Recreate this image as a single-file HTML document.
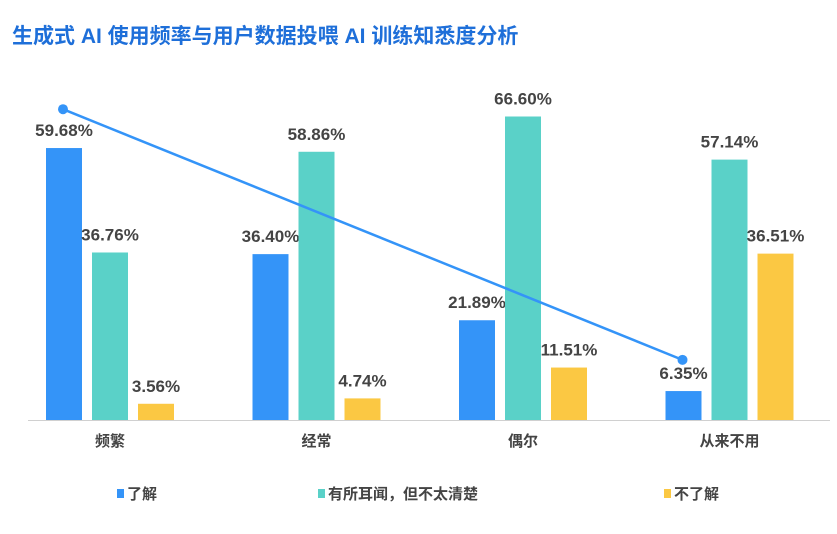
<!DOCTYPE html>
<html><head><meta charset="utf-8"><style>
body{margin:0;background:#fff;width:837px;height:529px;overflow:hidden;font-family:"Liberation Sans","Noto Sans CJK SC",sans-serif}
</style></head><body>
<svg id="c" width="837" height="529">
<text x="12" y="43" font-size="21" font-weight="bold" fill="#1e6fd9">生成式 AI 使用频率与用户数据投喂 AI 训练知悉度分析</text>
<line x1="28" y1="420.5" x2="830" y2="420.5" stroke="#d0d0d0"/>
</svg>
<script>
const categories=["频繁","经常","偶尔","从来不用"];
const seriesNames=["了解","有所耳闻，但不太清楚","不了解"];
const s1=[59.68,36.40,21.89,6.35];
const s2=[36.76,58.86,66.60,57.14];
const s3=[3.56,4.74,11.51,36.51];
const trendIdx=[0,3];
const trendVals=[68.2,13.2];
const colors=["#3494f8","#5ad1c8","#fbc843"];
const svg=document.getElementById('c');const NS="http://www.w3.org/2000/svg";
const base=420,k=4.557,g0=46,gStep=206.5,off=46,bw=36;
const y=v=>base-v*k;
const x=(i,s)=>g0+i*gStep+s*off;
function el(t,a){const e=document.createElementNS(NS,t);for(const n in a)e.setAttribute(n,a[n]);svg.appendChild(e);return e;}
[s1,s2,s3].forEach((arr,s)=>{arr.forEach((v,i)=>{
const r=el('rect',{x:x(i,s),y:y(v),width:bw,height:v*k,fill:colors[s]});


const t=el('text',{x:x(i,s)+bw/2,y:y(v)-12,'text-anchor':'middle','font-size':17,'font-weight':'bold',fill:'#444'});
t.textContent=v.toFixed(2)+'%';


});});
categories.forEach((c,i)=>{
const t=el('text',{x:x(i,1)+bw/2,y:446,'text-anchor':'middle','font-size':15,'font-weight':'bold',fill:'#444'});
t.textContent=c;


});
const tx=trendIdx.map(i=>x(i,0)+bw/2-1),ty=trendVals.map(y);
const ln=el('line',{x1:tx[0],y1:ty[0],x2:tx[1],y2:ty[1],stroke:'#3494f8','stroke-width':2.5});


tx.forEach((xx,j)=>{const c=el('circle',{cx:xx,cy:ty[j],r:5,fill:'#3494f8'});

});
const lx=[117,318,664];
seriesNames.forEach((n,s)=>{
const r=el('rect',{x:lx[s],y:489,width:7,height:9,fill:colors[s]});


const t=el('text',{x:lx[s]+10,y:499,'font-size':15,'font-weight':'bold',fill:'#444'});
t.textContent=n;


});
</script>
</body></html>
